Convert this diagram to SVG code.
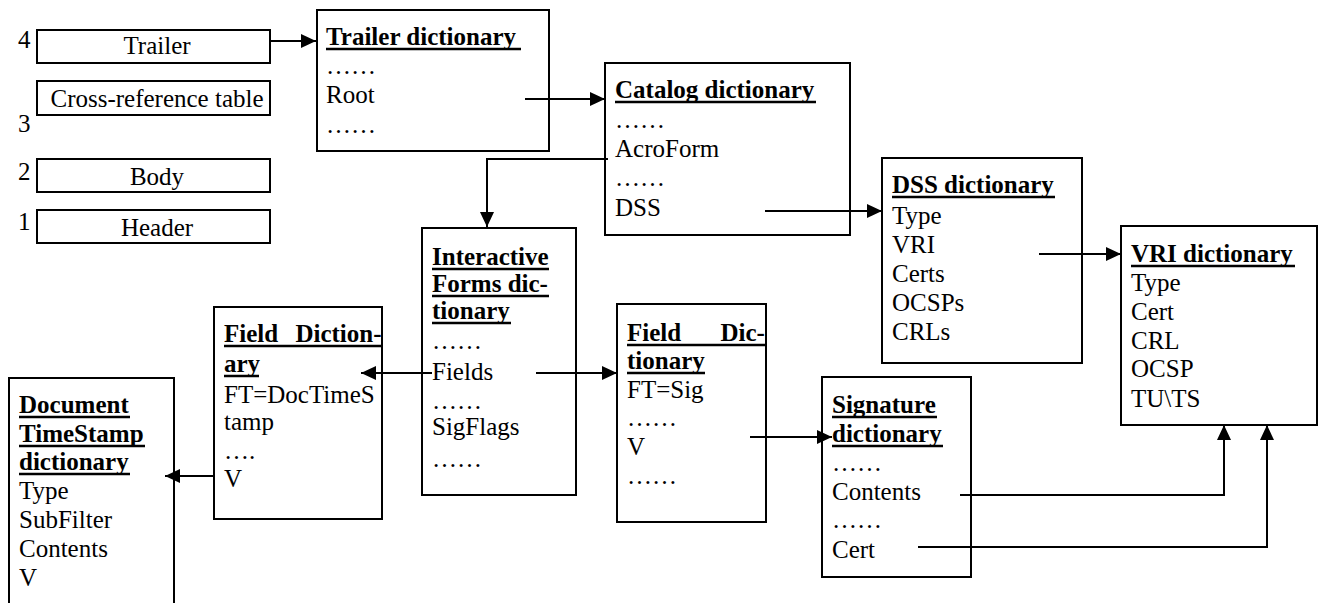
<svg xmlns="http://www.w3.org/2000/svg" width="1318" height="603" viewBox="0 0 1318 603" font-family="'Liberation Serif', 'Times New Roman', Times, serif" font-size="25">
<style>
  text { font-family: 'Liberation Serif', 'Times New Roman', Times, serif; font-size: 25px; fill: #000; }
  .b { font-weight: bold; }
  .c { text-anchor: middle; }
  .box { fill: #fff; stroke: #000; stroke-width: 2; }
  .ul { stroke: #000; stroke-width: 2.5; }
  .con { fill: none; stroke: #000; stroke-width: 2; }
</style>
<defs>
  <marker id="arr" markerUnits="userSpaceOnUse" markerWidth="18" markerHeight="16" refX="15" refY="8" orient="auto">
    <path d="M0,1 L15,8 L0,15 Z" fill="#000"/>
  </marker>
</defs>
<rect width="1318" height="603" fill="#fff"/>

<g id="file-structure">
  <g id="trailer">
    <text x="18" y="48">4</text>
    <rect class="box" x="37" y="30" width="233" height="33"/>
    <text class="c" x="157" y="54">Trailer</text>
  </g>
  <g id="xref">
    <rect class="box" x="37" y="81" width="233" height="34"/>
    <text class="c" x="157" y="107">Cross-reference table</text>
    <text x="18" y="132">3</text>
  </g>
  <g id="body">
    <text x="18" y="180">2</text>
    <rect class="box" x="37" y="159" width="233" height="33"/>
    <text class="c" x="157" y="185">Body</text>
  </g>
  <g id="header">
    <text x="18" y="230">1</text>
    <rect class="box" x="37" y="210" width="233" height="33"/>
    <text class="c" x="157" y="236">Header</text>
  </g>
</g>

<g id="trailer-dict">
  <rect class="box" x="317" y="10" width="232" height="141"/>
  <text class="b" x="326" y="45">Trailer dictionary</text>
  <line class="ul" x1="326" y1="49" x2="521" y2="49"/>
  <text x="326" y="74">……</text>
  <text x="326" y="103">Root</text>
  <text x="326" y="133">……</text>
</g>

<g id="catalog-dict">
  <rect class="box" x="605" y="63" width="245" height="172"/>
  <text class="b" x="615" y="98">Catalog dictionary</text>
  <line class="ul" x1="615" y1="102" x2="816" y2="102"/>
  <text x="615" y="128">……</text>
  <text x="615" y="157">AcroForm</text>
  <text x="615" y="186">……</text>
  <text x="615" y="216">DSS</text>
</g>

<g id="dss-dict">
  <rect class="box" x="882" y="158" width="200" height="205"/>
  <text class="b" x="892" y="193">DSS dictionary</text>
  <line class="ul" x1="892" y1="197" x2="1055" y2="197"/>
  <text x="892" y="224">Type</text>
  <text x="892" y="253">VRI</text>
  <text x="892" y="282">Certs</text>
  <text x="892" y="311">OCSPs</text>
  <text x="892" y="340">CRLs</text>
</g>

<g id="vri-dict">
  <rect class="box" x="1121" y="226" width="196" height="199"/>
  <text class="b" x="1131" y="262">VRI dictionary</text>
  <line class="ul" x1="1131" y1="266" x2="1295" y2="266"/>
  <text x="1131" y="291">Type</text>
  <text x="1131" y="320">Cert</text>
  <text x="1131" y="349">CRL</text>
  <text x="1131" y="377">OCSP</text>
  <text x="1131" y="407">TU\TS</text>
</g>

<g id="interactive-forms-dict">
  <rect class="box" x="422" y="228" width="154" height="267"/>
  <text class="b" x="432" y="265">Interactive</text>
  <line class="ul" x1="432" y1="269" x2="549" y2="269"/>
  <text class="b" x="432" y="292">Forms dic-</text>
  <line class="ul" x1="432" y1="296" x2="549" y2="296"/>
  <text class="b" x="432" y="319">tionary</text>
  <line class="ul" x1="432" y1="323" x2="511" y2="323"/>
  <text x="432" y="349">……</text>
  <text x="432" y="380">Fields</text>
  <text x="432" y="409">……</text>
  <text x="432" y="435">SigFlags</text>
  <text x="432" y="467">……</text>
</g>

<g id="field-dict-sig">
  <rect class="box" x="617" y="304" width="149" height="218"/>
  <text class="b" x="627" y="341" word-spacing="33">Field Dic-</text>
  <line class="ul" x1="627" y1="345" x2="765" y2="345"/>
  <text class="b" x="627" y="369">tionary</text>
  <line class="ul" x1="627" y1="373" x2="705" y2="373"/>
  <text x="627" y="398">FT=Sig</text>
  <text x="627" y="426">……</text>
  <text x="627" y="455">V</text>
  <text x="627" y="484">……</text>
</g>

<g id="field-dict-doctimestamp">
  <rect class="box" x="214" y="307" width="168" height="212"/>
  <text class="b" x="224" y="342" word-spacing="11">Field Diction-</text>
  <line class="ul" x1="224" y1="346" x2="381" y2="346"/>
  <text class="b" x="224" y="372">ary</text>
  <line class="ul" x1="224" y1="376" x2="259" y2="376"/>
  <text x="224" y="403">FT=DocTimeS</text>
  <text x="224" y="430">tamp</text>
  <text x="224" y="459">….</text>
  <text x="224" y="487">V</text>
</g>

<g id="doc-timestamp-dict">
  <rect class="box" x="9" y="378" width="165" height="235"/>
  <text class="b" x="19" y="413">Document</text>
  <line class="ul" x1="19" y1="417" x2="130" y2="417"/>
  <text class="b" x="19" y="442">TimeStamp</text>
  <line class="ul" x1="19" y1="446" x2="145" y2="446"/>
  <text class="b" x="19" y="470">dictionary</text>
  <line class="ul" x1="19" y1="474" x2="130" y2="474"/>
  <text x="19" y="499">Type</text>
  <text x="19" y="528">SubFilter</text>
  <text x="19" y="557">Contents</text>
  <text x="19" y="586">V</text>
</g>

<g id="signature-dict">
  <rect class="box" x="822" y="377" width="149" height="200"/>
  <text class="b" x="832" y="413">Signature</text>
  <line class="ul" x1="832" y1="417" x2="937" y2="417"/>
  <text class="b" x="832" y="442">dictionary</text>
  <line class="ul" x1="832" y1="446" x2="943" y2="446"/>
  <text x="832" y="471">……</text>
  <text x="832" y="500">Contents</text>
  <text x="832" y="528">……</text>
  <text x="832" y="558">Cert</text>
</g>

<g id="connectors">
  <path class="con" d="M270,41 H316" marker-end="url(#arr)"/>
  <path class="con" d="M525,99 H605" marker-end="url(#arr)"/>
  <path class="con" d="M608,159 H487 V227" marker-end="url(#arr)"/>
  <path class="con" d="M765,211 H882" marker-end="url(#arr)"/>
  <path class="con" d="M1039,254 H1121" marker-end="url(#arr)"/>
  <path class="con" d="M536,373 H617" marker-end="url(#arr)"/>
  <path class="con" d="M432,373 H361" marker-end="url(#arr)"/>
  <path class="con" d="M214,476 H165" marker-end="url(#arr)"/>
  <path class="con" d="M750,437 H832" marker-end="url(#arr)"/>
  <path class="con" d="M960,495 H1224 V425" marker-end="url(#arr)"/>
  <path class="con" d="M918,547 H1267 V425" marker-end="url(#arr)"/>
</g>
</svg>
